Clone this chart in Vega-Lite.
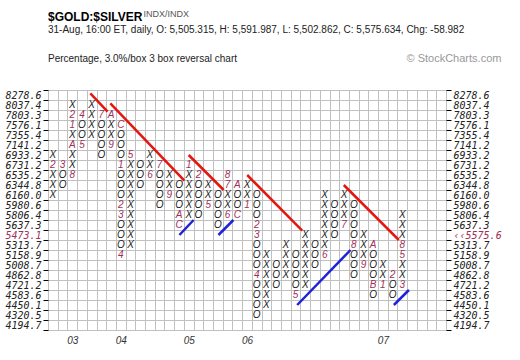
{
  "$schema": "https://vega.github.io/schema/vega-lite/v6.json",
  "width": 398,
  "height": 240,
  "autosize": "none",
  "padding": {"left": 48, "top": 90, "right": 74, "bottom": 30},
  "background": "white",
  "config": {"view": {"stroke": "#c0c0c0"}, "font": "Liberation Sans"},
  "title": {
    "text": "$GOLD:$SILVER",
    "subtitle": ["31-Aug, 16:00 ET, daily, O: 5,505.315, H: 5,591.987, L: 5,502.862, C: 5,575.634, Chg: -58.982", "Percentage, 3.0%/box 3 box reversal chart"],
    "anchor": "start",
    "frame": "group",
    "font": "Liberation Sans",
    "fontSize": 12,
    "fontWeight": "bold",
    "color": "#000000",
    "subtitleFont": "Liberation Sans",
    "subtitleFontSize": 10,
    "subtitleColor": "#222222",
    "subtitleLineHeight": 29,
    "subtitlePadding": 1,
    "offset": -56
  },
  "datasets": {
    "cells": [
      {"c":0,"p":"6933.2","t":"X"},{"c":0,"p":"6731.2","t":"2"},{"c":0,"p":"6535.2","t":"X"},{"c":0,"p":"6344.8","t":"X"},{"c":0,"p":"6160.0","t":"X"},
      {"c":1,"p":"6731.2","t":"3"},{"c":1,"p":"6535.2","t":"O"},{"c":1,"p":"6344.8","t":"O"},
      {"c":2,"p":"8037.4","t":"X"},{"c":2,"p":"7803.3","t":"2"},{"c":2,"p":"7576.1","t":"1"},{"c":2,"p":"7355.4","t":"X"},{"c":2,"p":"7141.2","t":"A"},{"c":2,"p":"6933.2","t":"X"},{"c":2,"p":"6731.2","t":"X"},{"c":2,"p":"6535.2","t":"8"},
      {"c":3,"p":"7803.3","t":"4"},{"c":3,"p":"7576.1","t":"O"},{"c":3,"p":"7355.4","t":"O"},{"c":3,"p":"7141.2","t":"5"},
      {"c":4,"p":"8037.4","t":"X"},{"c":4,"p":"7803.3","t":"X"},{"c":4,"p":"7576.1","t":"X"},{"c":4,"p":"7355.4","t":"X"},
      {"c":5,"p":"7803.3","t":"7"},{"c":5,"p":"7576.1","t":"O"},{"c":5,"p":"7355.4","t":"O"},{"c":5,"p":"7141.2","t":"O"},{"c":5,"p":"6933.2","t":"O"},
      {"c":6,"p":"7803.3","t":"A"},{"c":6,"p":"7576.1","t":"X"},{"c":6,"p":"7355.4","t":"X"},{"c":6,"p":"7141.2","t":"9"},
      {"c":7,"p":"7576.1","t":"C"},{"c":7,"p":"7355.4","t":"O"},{"c":7,"p":"7141.2","t":"O"},{"c":7,"p":"6933.2","t":"O"},{"c":7,"p":"6731.2","t":"1"},{"c":7,"p":"6535.2","t":"O"},{"c":7,"p":"6344.8","t":"O"},{"c":7,"p":"6160.0","t":"O"},{"c":7,"p":"5980.6","t":"2"},{"c":7,"p":"5806.4","t":"3"},{"c":7,"p":"5637.3","t":"O"},{"c":7,"p":"5473.1","t":"O"},{"c":7,"p":"5313.7","t":"O"},{"c":7,"p":"5158.9","t":"4"},
      {"c":8,"p":"6933.2","t":"5"},{"c":8,"p":"6731.2","t":"X"},{"c":8,"p":"6535.2","t":"X"},{"c":8,"p":"6344.8","t":"X"},{"c":8,"p":"6160.0","t":"X"},{"c":8,"p":"5980.6","t":"X"},{"c":8,"p":"5806.4","t":"X"},{"c":8,"p":"5637.3","t":"X"},{"c":8,"p":"5473.1","t":"X"},{"c":8,"p":"5313.7","t":"X"},
      {"c":9,"p":"6731.2","t":"O"},{"c":9,"p":"6535.2","t":"O"},{"c":9,"p":"6344.8","t":"O"},
      {"c":10,"p":"6933.2","t":"X"},{"c":10,"p":"6731.2","t":"X"},{"c":10,"p":"6535.2","t":"6"},
      {"c":11,"p":"6731.2","t":"7"},{"c":11,"p":"6535.2","t":"O"},{"c":11,"p":"6344.8","t":"O"},{"c":11,"p":"6160.0","t":"O"},{"c":11,"p":"5980.6","t":"O"},
      {"c":12,"p":"6535.2","t":"X"},{"c":12,"p":"6344.8","t":"X"},{"c":12,"p":"6160.0","t":"9"},
      {"c":13,"p":"6344.8","t":"O"},{"c":13,"p":"6160.0","t":"O"},{"c":13,"p":"5980.6","t":"O"},{"c":13,"p":"5806.4","t":"A"},{"c":13,"p":"5637.3","t":"C"},
      {"c":14,"p":"6731.2","t":"1"},{"c":14,"p":"6535.2","t":"X"},{"c":14,"p":"6344.8","t":"X"},{"c":14,"p":"6160.0","t":"X"},{"c":14,"p":"5980.6","t":"X"},{"c":14,"p":"5806.4","t":"X"},
      {"c":15,"p":"6535.2","t":"2"},{"c":15,"p":"6344.8","t":"O"},{"c":15,"p":"6160.0","t":"O"},{"c":15,"p":"5980.6","t":"O"},{"c":15,"p":"5806.4","t":"O"},
      {"c":16,"p":"6344.8","t":"X"},{"c":16,"p":"6160.0","t":"X"},{"c":16,"p":"5980.6","t":"5"},
      {"c":17,"p":"6160.0","t":"O"},{"c":17,"p":"5980.6","t":"O"},{"c":17,"p":"5806.4","t":"O"},{"c":17,"p":"5637.3","t":"O"},
      {"c":18,"p":"6535.2","t":"8"},{"c":18,"p":"6344.8","t":"7"},{"c":18,"p":"6160.0","t":"X"},{"c":18,"p":"5980.6","t":"X"},{"c":18,"p":"5806.4","t":"6"},
      {"c":19,"p":"6344.8","t":"A"},{"c":19,"p":"6160.0","t":"O"},{"c":19,"p":"5980.6","t":"O"},{"c":19,"p":"5806.4","t":"C"},
      {"c":20,"p":"6344.8","t":"X"},{"c":20,"p":"6160.0","t":"X"},{"c":20,"p":"5980.6","t":"1"},
      {"c":21,"p":"6160.0","t":"O"},{"c":21,"p":"5980.6","t":"O"},{"c":21,"p":"5806.4","t":"O"},{"c":21,"p":"5637.3","t":"2"},{"c":21,"p":"5473.1","t":"3"},{"c":21,"p":"5313.7","t":"O"},{"c":21,"p":"5158.9","t":"O"},{"c":21,"p":"5008.7","t":"O"},{"c":21,"p":"4862.8","t":"4"},{"c":21,"p":"4721.2","t":"O"},{"c":21,"p":"4583.6","t":"O"},{"c":21,"p":"4450.1","t":"O"},{"c":21,"p":"4320.5","t":"O"},
      {"c":22,"p":"5158.9","t":"X"},{"c":22,"p":"5008.7","t":"X"},{"c":22,"p":"4862.8","t":"X"},{"c":22,"p":"4721.2","t":"X"},{"c":22,"p":"4583.6","t":"X"},{"c":22,"p":"4450.1","t":"X"},
      {"c":23,"p":"5008.7","t":"O"},{"c":23,"p":"4862.8","t":"O"},{"c":23,"p":"4721.2","t":"O"},
      {"c":24,"p":"5313.7","t":"X"},{"c":24,"p":"5158.9","t":"X"},{"c":24,"p":"5008.7","t":"X"},{"c":24,"p":"4862.8","t":"X"},
      {"c":25,"p":"5158.9","t":"O"},{"c":25,"p":"5008.7","t":"O"},{"c":25,"p":"4862.8","t":"O"},{"c":25,"p":"4721.2","t":"O"},{"c":25,"p":"4583.6","t":"5"},
      {"c":26,"p":"5473.1","t":"X"},{"c":26,"p":"5313.7","t":"X"},{"c":26,"p":"5158.9","t":"X"},{"c":26,"p":"5008.7","t":"X"},{"c":26,"p":"4862.8","t":"X"},{"c":26,"p":"4721.2","t":"X"},
      {"c":27,"p":"5313.7","t":"O"},{"c":27,"p":"5158.9","t":"O"},{"c":27,"p":"5008.7","t":"O"},
      {"c":28,"p":"6160.0","t":"X"},{"c":28,"p":"5980.6","t":"X"},{"c":28,"p":"5806.4","t":"X"},{"c":28,"p":"5637.3","t":"X"},{"c":28,"p":"5473.1","t":"X"},{"c":28,"p":"5313.7","t":"X"},{"c":28,"p":"5158.9","t":"6"},
      {"c":29,"p":"5980.6","t":"O"},{"c":29,"p":"5806.4","t":"O"},{"c":29,"p":"5637.3","t":"O"},{"c":29,"p":"5473.1","t":"O"},
      {"c":30,"p":"6160.0","t":"X"},{"c":30,"p":"5980.6","t":"X"},{"c":30,"p":"5806.4","t":"X"},{"c":30,"p":"5637.3","t":"7"},
      {"c":31,"p":"5980.6","t":"O"},{"c":31,"p":"5806.4","t":"O"},{"c":31,"p":"5637.3","t":"O"},{"c":31,"p":"5473.1","t":"O"},{"c":31,"p":"5313.7","t":"8"},{"c":31,"p":"5158.9","t":"O"},{"c":31,"p":"5008.7","t":"O"},{"c":31,"p":"4862.8","t":"O"},
      {"c":32,"p":"5473.1","t":"X"},{"c":32,"p":"5313.7","t":"X"},{"c":32,"p":"5158.9","t":"X"},{"c":32,"p":"5008.7","t":"9"},
      {"c":33,"p":"5313.7","t":"A"},{"c":33,"p":"5158.9","t":"O"},{"c":33,"p":"5008.7","t":"O"},{"c":33,"p":"4862.8","t":"O"},{"c":33,"p":"4721.2","t":"B"},{"c":33,"p":"4583.6","t":"O"},
      {"c":34,"p":"5008.7","t":"X"},{"c":34,"p":"4862.8","t":"X"},{"c":34,"p":"4721.2","t":"1"},
      {"c":35,"p":"4862.8","t":"2"},{"c":35,"p":"4721.2","t":"O"},{"c":35,"p":"4583.6","t":"O"},
      {"c":36,"p":"5806.4","t":"X"},{"c":36,"p":"5637.3","t":"X"},{"c":36,"p":"5473.1","t":"X"},{"c":36,"p":"5313.7","t":"8"},{"c":36,"p":"5158.9","t":"5"},{"c":36,"p":"5008.7","t":"X"},{"c":36,"p":"4862.8","t":"X"},{"c":36,"p":"4721.2","t":"3"}
    ],
    "trend": [
      {"s":"R1","k":"red","x":3.86,"y":-0.17},{"s":"R1","k":"red","x":5.64,"y":1.67},
      {"s":"R2","k":"red","x":5.92,"y":0.83},{"s":"R2","k":"red","x":13.55,"y":8.57},
      {"s":"R3","k":"red","x":13.99,"y":6.0},{"s":"R3","k":"red","x":17.6,"y":9.5},
      {"s":"R4","k":"red","x":20.02,"y":8.0},{"s":"R4","k":"red","x":25.69,"y":13.57},
      {"s":"R5","k":"red","x":29.97,"y":9.0},{"s":"R5","k":"red","x":35.64,"y":14.5},
      {"s":"B1","k":"blue","x":13.04,"y":14.0},{"s":"B1","k":"blue","x":14.5,"y":12.5},
      {"s":"B2","k":"blue","x":17.06,"y":14.0},{"s":"B2","k":"blue","x":18.6,"y":12.5},
      {"s":"B3","k":"blue","x":25.17,"y":21.0},{"s":"B3","k":"blue","x":30.66,"y":15.5},
      {"s":"B4","k":"blue","x":35.13,"y":21.0},{"s":"B4","k":"blue","x":36.68,"y":19.5}
    ]
  },
  "layer": [
    {
      "data": {"name": "cells"},
      "transform": [{"filter": "datum.t == 'X' || datum.t == 'O'"}],
      "mark": {"type": "text", "font": "Liberation Sans", "fontStyle": "italic", "fontSize": 10, "color": "#1a1a1a", "align": "center", "baseline": "middle"},
      "encoding": {
        "x": {"field": "c", "type": "ordinal",
          "scale": {"domain": [0,1,2,3,4,5,6,7,8,9,10,11,12,13,14,15,16,17,18,19,20,21,22,23,24,25,26,27,28,29,30,31,32,33,34,35,36,37,38,39,40], "paddingInner": 0, "paddingOuter": 0},
          "axis": {"orient": "bottom", "title": null, "grid": true, "gridColor": "#c0c0c0", "gridWidth": 1, "tickBand": "extent", "ticks": false, "domain": false, "labelAngle": 0, "labelPadding": 5, "labelFont": "Liberation Sans", "labelFontStyle": "italic", "labelFontSize": 10, "labelColor": "#333333",
            "labelExpr": "datum.value == 2 ? '03' : datum.value == 7 ? '04' : datum.value == 14 ? '05' : datum.value == 20 ? '06' : datum.value == 34 ? '07' : ''"}},
        "y": {"field": "p", "type": "ordinal",
          "scale": {"domain": ["8278.6","8037.4","7803.3","7576.1","7355.4","7141.2","6933.2","6731.2","6535.2","6344.8","6160.0","5980.6","5806.4","5637.3","5473.1","5313.7","5158.9","5008.7","4862.8","4721.2","4583.6","4450.1","4320.5","4194.7"], "paddingInner": 0, "paddingOuter": 0},
          "axis": {"orient": "left", "title": null, "grid": true, "gridColor": "#c0c0c0", "gridWidth": 1, "tickBand": "extent", "domain": false, "tickSize": 5, "tickColor": "#000000", "labelPadding": 2, "labelFont": "DejaVu Sans Mono", "labelFontStyle": "italic", "labelFontSize": 10, "labelBaseline": "middle",
            "labelColor": {"condition": {"test": "datum.value == '5473.1'", "value": "#a0305a"}, "value": "#222222"}}},
        "text": {"field": "t", "type": "nominal"}
      }
    },
    {
      "data": {"name": "trend"},
      "mark": {"type": "line", "strokeWidth": 2.5, "strokeCap": "butt"},
      "encoding": {
        "x": {"field": "x", "type": "quantitative", "scale": {"domain": [-0.5, 40.5], "nice": false, "zero": false},
          "axis": {"orient": "top", "title": "INDX/INDX", "labels": false, "ticks": false, "domain": false, "grid": false, "titleX": 95, "titleY": -77, "titleAlign": "left", "titleBaseline": "middle", "titleFont": "Liberation Sans", "titleFontSize": 9, "titleFontWeight": "normal", "titleColor": "#555555"}},
        "y": {"field": "y", "type": "quantitative", "scale": {"domain": [-0.5, 23.5], "nice": false, "zero": false, "reverse": true}, "axis": null},
        "detail": {"field": "s", "type": "nominal"},
        "color": {"field": "k", "type": "nominal", "scale": {"domain": ["red", "blue"], "range": ["#e3170f", "#1e22d8"]}, "legend": null}
      }
    },
    {
      "data": {"name": "cells"},
      "transform": [{"filter": "datum.t != 'X' && datum.t != 'O'"}],
      "mark": {"type": "text", "font": "Liberation Sans", "fontStyle": "italic", "fontSize": 10, "color": "#a0305a", "align": "center", "baseline": "middle"},
      "encoding": {
        "x": {"field": "c", "type": "ordinal",
          "scale": {"domain": [0,1,2,3,4,5,6,7,8,9,10,11,12,13,14,15,16,17,18,19,20,21,22,23,24,25,26,27,28,29,30,31,32,33,34,35,36,37,38,39,40], "paddingInner": 0, "paddingOuter": 0},
          "axis": null},
        "y": {"field": "p", "type": "ordinal",
          "scale": {"domain": ["8278.6","8037.4","7803.3","7576.1","7355.4","7141.2","6933.2","6731.2","6535.2","6344.8","6160.0","5980.6","5806.4","5637.3","5473.1","5313.7","5158.9","5008.7","4862.8","4721.2","4583.6","4450.1","4320.5","4194.7"], "paddingInner": 0, "paddingOuter": 0},
          "axis": {"orient": "right", "grid": false, "tickBand": "extent", "domain": false, "tickSize": 5, "tickColor": "#000000", "labelPadding": 2, "labelFont": "DejaVu Sans Mono", "labelFontStyle": "italic", "labelFontSize": 10, "labelBaseline": "middle",
            "labelExpr": "datum.value == '5473.1' ? '‹‹5575.6' : datum.label",
            "labelColor": {"condition": {"test": "datum.value == '5473.1'", "value": "#a0305a"}, "value": "#222222"},
            "title": "© StockCharts.com", "titleAngle": 0, "titleX": -40, "titleY": -32, "titleAlign": "left", "titleBaseline": "middle", "titleFont": "Liberation Sans", "titleFontSize": 11, "titleFontWeight": "normal", "titleColor": "#999999"}},
        "text": {"field": "t", "type": "nominal"}
      }
    }
  ],
  "resolve": {"scale": {"x": "independent", "y": "independent"}}
}
